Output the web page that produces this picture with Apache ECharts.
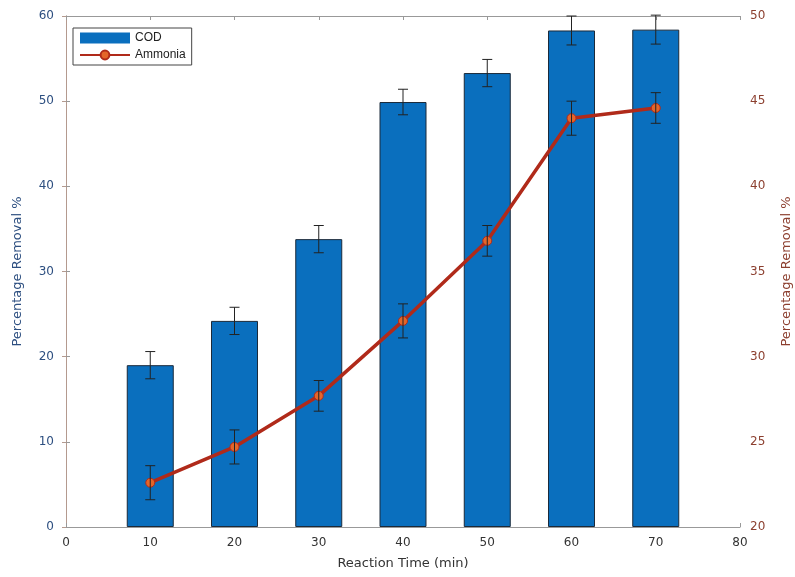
<!DOCTYPE html>
<html>
<head>
<meta charset="utf-8">
<script src="https://cdn.jsdelivr.net/npm/echarts@6/dist/echarts.min.js"></script>
<style>
html, body { margin: 0; padding: 0; background: #fff; }
#main { width: 795px; height: 577px; }
</style>
</head>
<body>
<div id="main"></div>
<script>
// data
var times = [10, 20, 30, 40, 50, 60, 70];
var codValues = [19.0, 24.2, 33.8, 49.9, 53.3, 58.3, 58.4];
var codErrors = [1.6, 1.6, 1.6, 1.5, 1.6, 1.7, 1.7];
var ammoniaValues = [22.6, 24.7, 27.7, 32.1, 36.8, 44.0, 44.6];
var ammoniaErrors = [1.0, 1.0, 0.9, 1.0, 0.9, 1.0, 0.9];

var myChart = echarts.init(document.getElementById('main'), null, { renderer: 'canvas' });

var blue = '#0a6fbe';
var red = '#b02a1a';
var leftColor = '#2d4f80';
var rightColor = '#8c3f2f';

function pairs(xs, ys) {
    return xs.map(function (x, i) { return [x, ys[i]]; });
}
function errData(xs, ys, es) {
    return xs.map(function (x, i) { return [x, ys[i] - es[i], ys[i] + es[i]]; });
}
function errorRender(params, api) {
    var lo = api.coord([api.value(0), api.value(1)]);
    var hi = api.coord([api.value(0), api.value(2)]);
    var w = 5;
    var st = { stroke: '#222', lineWidth: 1 };
    return {
        type: 'group',
        children: [
            { type: 'line', shape: { x1: lo[0], y1: lo[1], x2: hi[0], y2: hi[1] }, style: st },
            { type: 'line', shape: { x1: lo[0] - w, y1: lo[1], x2: lo[0] + w, y2: lo[1] }, style: st },
            { type: 'line', shape: { x1: hi[0] - w, y1: hi[1], x2: hi[0] + w, y2: hi[1] }, style: st }
        ]
    };
}

var option = {
    animation: false,
    textStyle: { fontFamily: 'DejaVu Sans' },
    grid: { left: 66, right: 55, top: 16, bottom: 50, outerBoundsMode: 'none' },
    legend: {
        left: 73,
        top: 28,
        orient: 'vertical',
        itemGap: 5,
        itemWidth: 50,
        itemHeight: 11,
        padding: [4, 6, 4, 6],
        borderColor: '#444',
        borderWidth: 1,
        backgroundColor: '#fff',
        textStyle: { fontSize: 12, color: '#222', fontFamily: 'Liberation Sans' },
        data: [
            { name: 'COD', icon: 'rect', itemStyle: { borderWidth: 0 } },
            { name: 'Ammonia' }
        ]
    },
    xAxis: [
        {
            type: 'value', min: 0, max: 80, interval: 10,
            name: 'Reaction Time (min)', nameLocation: 'middle', nameGap: 30,
            nameTextStyle: { fontSize: 13, color: '#333' },
            axisLine: { lineStyle: { color: '#999' } },
            axisTick: { inside: true, length: 4, lineStyle: { color: '#999' } },
            axisLabel: { fontSize: 12, color: '#333', margin: 10 },
            splitLine: { show: false }
        },
        {
            type: 'value', min: 0, max: 80, interval: 10, position: 'top',
            axisLine: { show: true, lineStyle: { color: '#999' } },
            axisTick: { show: true, inside: true, length: 4, lineStyle: { color: '#999' } },
            axisLabel: { show: false },
            splitLine: { show: false }
        }
    ],
    yAxis: [
        {
            type: 'value', min: 0, max: 60, interval: 10,
            name: 'Percentage Removal %', nameLocation: 'middle', nameGap: 42,
            nameTextStyle: { fontSize: 13, color: leftColor },
            axisLine: { show: true, lineStyle: { color: '#999' } },
            axisTick: { show: true, inside: true, length: 4, lineStyle: { color: '#999' } },
            axisLabel: { fontSize: 12, color: leftColor, margin: 12 },
            splitLine: { show: false }
        },
        {
            type: 'value', min: 20, max: 50, interval: 5, position: 'right',
            name: 'Percentage Removal %', nameLocation: 'middle', nameGap: 40, nameRotate: 90,
            nameTextStyle: { fontSize: 13, color: rightColor },
            axisLine: { show: true, lineStyle: { color: '#b49a8f' } },
            axisTick: { show: true, inside: true, length: 4, lineStyle: { color: '#b49a8f' } },
            axisLabel: { fontSize: 12, color: rightColor, margin: 10 },
            splitLine: { show: false }
        }
    ],
    series: [
        {
            name: 'COD',
            type: 'bar',
            yAxisIndex: 0,
            barWidth: 47,
            itemStyle: { color: blue, borderColor: '#1b2a3a', borderWidth: 1 },
            data: pairs(times, codValues),
            z: 2
        },
        {
            name: 'COD err',
            type: 'custom',
            yAxisIndex: 0,
            renderItem: errorRender,
            encode: { x: 0, y: [1, 2] },
            data: errData(times, codValues, codErrors),
            z: 3
        },
        {
            name: 'Ammonia',
            type: 'line',
            yAxisIndex: 1,
            symbol: 'circle',
            symbolSize: 9,
            lineStyle: { color: red, width: 3.5 },
            itemStyle: { color: '#e4662a', borderColor: red, borderWidth: 1 },
            data: pairs(times, ammoniaValues),
            z: 4
        },
        {
            name: 'Ammonia err',
            type: 'custom',
            yAxisIndex: 1,
            renderItem: errorRender,
            encode: { x: 0, y: [1, 2] },
            data: errData(times, ammoniaValues, ammoniaErrors),
            z: 5
        }
    ]
};

myChart.setOption(option);
</script>
</body>
</html>
